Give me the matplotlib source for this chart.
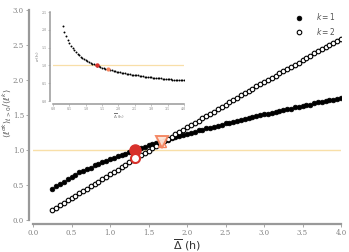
"""Moment ratio vs mean Delta, with inset"""

import numpy as np
import matplotlib
matplotlib.use("Agg")
import matplotlib.pyplot as plt

delta_bar = [0.25, 0.30, 0.35, 0.40, 0.45, 0.50, 0.55, 0.60, 0.65, 0.70,
             0.75, 0.80, 0.85, 0.90, 0.95, 1.00, 1.05, 1.10, 1.15, 1.20,
             1.25, 1.30, 1.35, 1.40, 1.45, 1.50, 1.55, 1.60, 1.65, 1.70,
             1.75, 1.80, 1.85, 1.90, 1.95, 2.00, 2.05, 2.10, 2.15, 2.20,
             2.25, 2.30, 2.35, 2.40, 2.45, 2.50, 2.55, 2.60, 2.65, 2.70,
             2.75, 2.80, 2.85, 2.90, 2.95, 3.00, 3.05, 3.10, 3.15, 3.20,
             3.25, 3.30, 3.35, 3.40, 3.45, 3.50, 3.55, 3.60, 3.65, 3.70,
             3.75, 3.80, 3.85, 3.90, 3.95, 4.00]

ratio_k1 = [0.45, 0.48, 0.52, 0.55, 0.59, 0.62, 0.65, 0.68, 0.70, 0.73,
            0.75, 0.78, 0.80, 0.83, 0.85, 0.87, 0.89, 0.91, 0.93, 0.95,
            0.97, 0.99, 1.01, 1.03, 1.05, 1.07, 1.08, 1.10, 1.12, 1.13,
            1.15, 1.17, 1.18, 1.20, 1.21, 1.23, 1.25, 1.26, 1.28, 1.29,
            1.31, 1.32, 1.33, 1.35, 1.36, 1.38, 1.39, 1.40, 1.42, 1.43,
            1.44, 1.46, 1.47, 1.48, 1.50, 1.51, 1.52, 1.53, 1.55, 1.56,
            1.57, 1.58, 1.59, 1.61, 1.62, 1.63, 1.64, 1.65, 1.67, 1.68,
            1.69, 1.70, 1.71, 1.72, 1.73, 1.75]

ratio_k2 = [0.14, 0.17, 0.21, 0.24, 0.28, 0.31, 0.35, 0.38, 0.42, 0.45,
            0.49, 0.52, 0.55, 0.59, 0.62, 0.66, 0.69, 0.72, 0.76, 0.79,
            0.83, 0.86, 0.89, 0.93, 0.96, 0.99, 1.03, 1.06, 1.10, 1.13,
            1.16, 1.19, 1.23, 1.26, 1.29, 1.33, 1.36, 1.39, 1.42, 1.46,
            1.49, 1.52, 1.55, 1.59, 1.62, 1.65, 1.68, 1.71, 1.75, 1.78,
            1.81, 1.84, 1.87, 1.91, 1.94, 1.97, 2.00, 2.03, 2.06, 2.10,
            2.13, 2.16, 2.19, 2.22, 2.25, 2.28, 2.31, 2.34, 2.38, 2.41,
            2.44, 2.47, 2.50, 2.53, 2.56, 2.59]

# inset curve starts one step later
inset_x = delta_bar[1:]
inset_sigma = [2.11, 1.95, 1.82, 1.72, 1.63, 1.56, 1.49, 1.43, 1.38,
               1.33, 1.29, 1.25, 1.22, 1.18, 1.15, 1.13, 1.10, 1.08, 1.05,
               1.03, 1.01, 0.99, 0.98, 0.96, 0.94, 0.93, 0.91, 0.90, 0.89,
               0.87, 0.86, 0.85, 0.84, 0.83, 0.82, 0.81, 0.80, 0.79, 0.78,
               0.77, 0.76, 0.75, 0.74, 0.74, 0.73, 0.72, 0.72, 0.71, 0.70,
               0.70, 0.69, 0.68, 0.68, 0.67, 0.67, 0.66, 0.66, 0.65, 0.65,
               0.64, 0.64, 0.63, 0.63, 0.62, 0.62, 0.61, 0.61, 0.60, 0.60,
               0.60, 0.59, 0.59, 0.58, 0.58, 0.58]

red_x = 1.33
red_k1, red_k2, red_sigma = 1.0, 0.88, 1.0
orange_x = 1.68
orange_k1, orange_k2, orange_sigma = 1.11, 1.10, 0.89

RED = "#d8312b"
ORANGE = "#f4845f"
HLINE = "#f8dfa8"
SPINE = "#999999"
TICK = "#808080"


def style_axes(ax, lw, size, offset):
    for side in ("top", "right"):
        ax.spines[side].set_visible(False)
    for side in ("left", "bottom"):
        ax.spines[side].set_position(("outward", offset))
        ax.spines[side].set_color(SPINE)
        ax.spines[side].set_linewidth(lw)
    ax.tick_params(colors=SPINE, labelcolor=TICK, labelsize=size,
                   width=0.6, length=2, pad=1.5)
    for lab in ax.get_xticklabels() + ax.get_yticklabels():
        lab.set_family("DejaVu Serif")


fig = plt.figure(figsize=(3.49, 2.52), dpi=100)
ax = fig.add_axes([0.0946, 0.127, 0.8825, 0.833])
ax.set_xlim(0, 4)
ax.set_ylim(0, 3)
ax.set_xticks(np.arange(0, 4.01, 0.5))
ax.set_yticks(np.arange(0, 3.01, 0.5))
ax.set_xticklabels(["%.1f" % v for v in np.arange(0, 4.01, 0.5)])
ax.set_yticklabels(["%.1f" % v for v in np.arange(0, 3.01, 0.5)])
ax.set_facecolor("none")

ax.axhline(1.0, color=HLINE, lw=1.0, zorder=1)
ax.plot(delta_bar, ratio_k1, "o", ms=3.4, color="black", mec="black",
        mew=0.5, label=r"$k=1$", zorder=3)
ax.plot(delta_bar, ratio_k2, "o", ms=3.3, mfc="white", mec="black",
        mew=0.8, label=r"$k=2$", zorder=3)
ax.plot([red_x], [red_k1], "o", ms=8, color=RED, zorder=5)
ax.plot([red_x], [red_k2], "o", ms=6.5, mfc="white", mec=RED, mew=1.5,
        zorder=5)
ax.plot([orange_x], [orange_k2], "^", ms=6, mfc="none", mec=ORANGE,
        mew=1.0, zorder=5)
ax.plot([orange_x], [orange_k1], "v", ms=8, mfc="#fde3d6", mec=ORANGE,
        mew=1.4, zorder=5, alpha=0.95)

style_axes(ax, 1.6, 5, 3)
ax.set_xlabel(r"$\overline{\Delta}$ (h)", fontsize=8, labelpad=0,
              color="#333333")
ax.set_ylabel(r"$\langle \ell^{\sigma k} \rangle_{\ell>0} / \langle \ell^{k} \rangle$",
              fontsize=6, color="#555555")
ax.yaxis.set_label_coords(-0.062, 0.51)
ax.legend(loc="upper right", bbox_to_anchor=(1.0, 1.02), frameon=False,
          fontsize=5.5, handletextpad=1.2, labelspacing=0.5,
          borderaxespad=0.3, labelcolor="#555555")

# inset
ins = fig.add_axes([0.152, 0.599, 0.375, 0.353])
ins.set_facecolor("none")
ins.set_xlim(0, 4)
ins.set_ylim(0, 2.5)
ins.set_xticks(np.arange(0, 4.01, 0.5))
ins.set_yticks(np.arange(0, 2.51, 0.5))
ins.set_xticklabels(["%.1f" % v for v in np.arange(0, 4.01, 0.5)])
ins.set_yticklabels(["%.1f" % v for v in np.arange(0, 2.51, 0.5)])
ins.axhline(1.0, color=HLINE, lw=0.9, zorder=1)
ins.plot(inset_x, inset_sigma, "o", ms=1.4, color="black", mew=0, zorder=3)
ins.plot([red_x], [red_sigma], "o", ms=3.2, color=RED, mew=0, zorder=5)
ins.plot([orange_x], [orange_sigma], "o", ms=3.0, color=ORANGE, mew=0,
         zorder=5)
style_axes(ins, 1.1, 2.3, 2)
ins.tick_params(length=1.2, width=0.4, pad=1)
ins.set_xlabel(r"$\overline{\Delta}$ (h)", fontsize=3, labelpad=1,
               color="#777777")
ins.set_ylabel(r"$\sigma$ (h)", fontsize=3, labelpad=1, color="#777777")

fig.savefig("out.png", dpi=100)
